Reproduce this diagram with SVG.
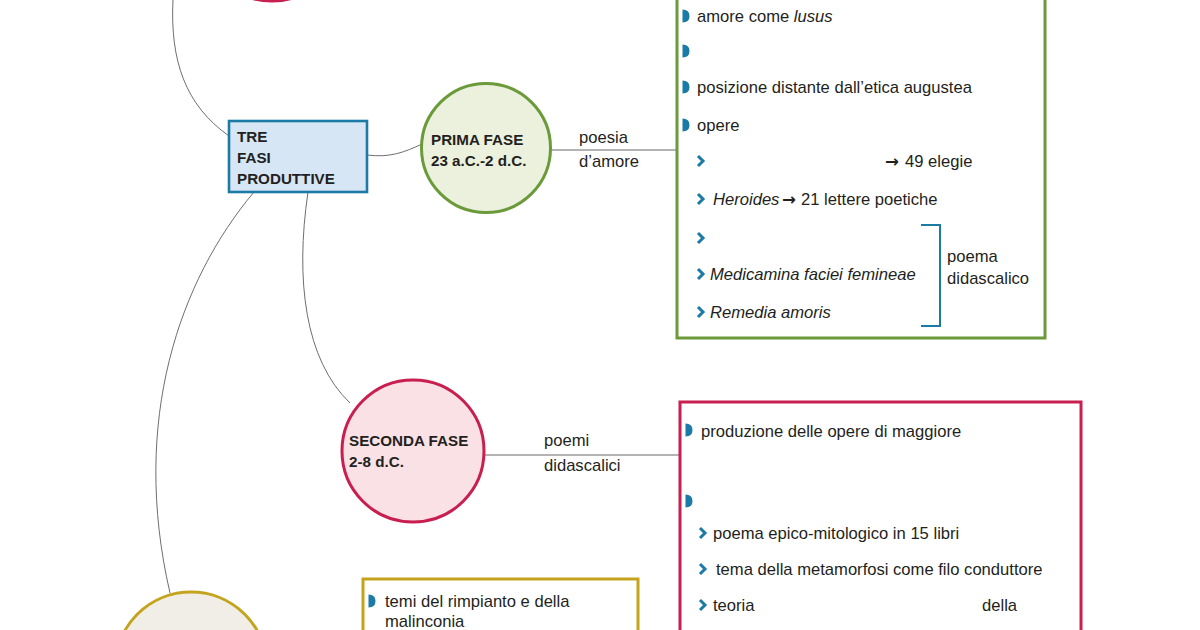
<svg xmlns="http://www.w3.org/2000/svg" width="1200" height="630" viewBox="0 0 1200 630">
<style>
.t{font-family:"Liberation Sans",Arial,sans-serif;font-size:16.6px;fill:#231f20}
.b{font-family:"Liberation Sans",Arial,sans-serif;font-size:15.2px;font-weight:bold;fill:#231f20}
.i{font-style:italic}
.ar{font-family:"DejaVu Sans",sans-serif;font-weight:bold}
.con{fill:none;stroke:#6d6e71;stroke-width:1}
.lin{fill:none;stroke:#9a9a9a;stroke-width:1.3}
.chev{fill:none;stroke:#1b7aa6;stroke-width:3;stroke-linecap:butt;stroke-linejoin:miter}
.bul{fill:#1b7aa6}
</style>
<defs>
<path id="bu" d="M-0.5 -6.5 Q6.5 -6.5 6.5 0 Q6.5 6.5 -0.5 6.5 Z" class="bul"/>
<path id="ch" d="M-3 -5 L2 0 L-3 5" class="chev"/>
</defs>
<rect width="1200" height="630" fill="#ffffff"/>

<g id="connectors">
<path class="con" d="M173 0 C170 60 185 105 229 136"/>
<path class="con" d="M367 155 C390 158 405 152 422 144"/>
<path class="con" d="M308 192 C295 280 305 360 350 403"/>
<path class="con" d="M254 192 C180 280 130 420 170 593"/>
<line class="lin" x1="551" y1="150" x2="677" y2="150"/>
<line class="lin" x1="484" y1="455" x2="680" y2="455"/>
<text class="t" x="579" y="143">poesia</text>
<text class="t" x="579" y="167">d’amore</text>
<text class="t" x="544" y="446">poemi</text>
<text class="t" x="544" y="471">didascalici</text>
</g>

<g id="top-circle">
<circle cx="272" cy="-70" r="71" fill="#f9e1e6" stroke="#c81e50" stroke-width="3"/>
</g>

<g id="tre-fasi">
<rect x="229" y="121" width="138" height="71" fill="#d6e6f4" stroke="#1b7aa6" stroke-width="2.6"/>
<text class="b" x="237" y="142">TRE</text>
<text class="b" x="237" y="163">FASI</text>
<text class="b" x="237" y="184">PRODUTTIVE</text>
</g>

<g id="prima-fase">
<circle cx="486" cy="148" r="64.5" fill="#ebf1dc" stroke="#6b9a3b" stroke-width="3"/>
<text class="b" x="431" y="145">PRIMA FASE</text>
<text class="b" x="431" y="166">23 a.C.-2 d.C.</text>
</g>

<g id="prima-box">
<rect x="677" y="-10" width="368" height="348" fill="#ffffff" stroke="#6b9a3b" stroke-width="3"/>
<use href="#bu" x="683" y="16"/>
<text class="t" x="697" y="22">amore come <tspan class="i">lusus</tspan></text>
<use href="#bu" x="683" y="51"/>
<use href="#bu" x="683" y="87"/>
<text class="t" x="697" y="93">posizione distante dall’etica augustea</text>
<use href="#bu" x="683" y="125"/>
<text class="t" x="697" y="131">opere</text>
<use href="#ch" x="701" y="161"/>
<text class="t" x="885" y="167"><tspan class="ar">→</tspan><tspan x="905">49 elegie</tspan></text>
<use href="#ch" x="701" y="199"/>
<text class="t" x="713" y="205"><tspan class="i">Heroides</tspan><tspan class="ar" x="782">→</tspan><tspan x="801">21 lettere poetiche</tspan></text>
<use href="#ch" x="701" y="238"/>
<use href="#ch" x="701" y="274"/>
<text class="t i" x="710" y="280">Medicamina faciei femineae</text>
<use href="#ch" x="701" y="312"/>
<text class="t i" x="710" y="318">Remedia amoris</text>
<path d="M921 225 H940 V326 H921" fill="none" stroke="#1b7aa6" stroke-width="2"/>
<text class="t" x="947" y="262">poema</text>
<text class="t" x="947" y="284">didascalico</text>
</g>

<g id="seconda-fase">
<circle cx="413" cy="451" r="71" fill="#f9e1e6" stroke="#c81e50" stroke-width="3"/>
<text class="b" x="349" y="446">SECONDA FASE</text>
<text class="b" x="349" y="467">2-8 d.C.</text>
</g>

<g id="seconda-box">
<rect x="680" y="402" width="401" height="260" fill="#ffffff" stroke="#c81e50" stroke-width="3"/>
<use href="#bu" x="686" y="430"/>
<text class="t" x="701" y="437">produzione delle opere di maggiore</text>
<use href="#bu" x="686" y="501"/>
<use href="#ch" x="703" y="533"/>
<text class="t" x="713" y="539">poema epico-mitologico in 15 libri</text>
<use href="#ch" x="703" y="569"/>
<text class="t" x="716" y="575">tema della metamorfosi come filo conduttore</text>
<use href="#ch" x="703" y="605"/>
<text class="t" x="713" y="611">teoria</text>
<text class="t" x="982" y="611">della</text>
</g>

<g id="terza-fase">
<circle cx="191" cy="668" r="76" fill="#f1eee8" stroke="#c4a41c" stroke-width="3"/>
</g>

<g id="terza-box">
<rect x="363" y="579" width="275" height="70" fill="#ffffff" stroke="#c4a41c" stroke-width="3"/>
<use href="#bu" x="369" y="601"/>
<text class="t" x="385" y="607">temi del rimpianto e della</text>
<text class="t" x="385" y="627">malinconia</text>
</g>
</svg>
